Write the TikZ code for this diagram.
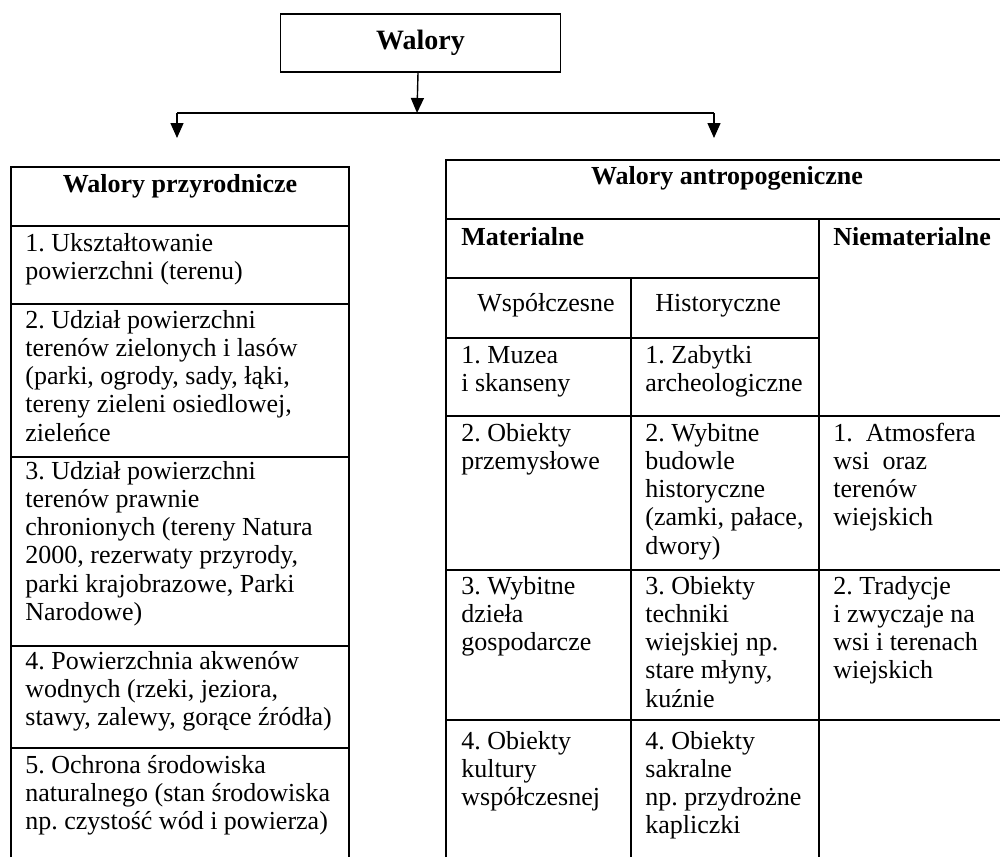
\documentclass[tikz,border=0pt]{standalone}
\usepackage{fontspec}
\setmainfont{Liberation Serif}
\frenchspacing
\usetikzlibrary{arrows.meta}
\newcommand{\celltext}[1]{\begin{tabular}[t]{@{}l@{}}#1\end{tabular}}
\begin{document}
\begin{tikzpicture}[x=0.5pt,y=-0.5pt,
  cell/.style={anchor=base west,inner sep=0pt,font=\fontsize{13pt}{14.15pt}\selectfont},
  head/.style={anchor=base,inner sep=0pt,font=\fontsize{13pt}{14.15pt}\selectfont\bfseries},
  bhead/.style={anchor=base west,inner sep=0pt,font=\fontsize{13pt}{14.15pt}\selectfont\bfseries},
  grid/.style={line width=1pt},
  conn/.style={line width=0.7pt},
  arr/.style={conn,-{Triangle[width=6.5pt,length=7.5pt]}}]
\useasboundingbox (0,0) rectangle (1000,857);
% top box
\node[draw,line width=0.8pt,minimum width=140pt,minimum height=29pt,inner sep=0pt,
  font=\fontsize{14pt}{16pt}\selectfont\bfseries] (top) at (420.5,43) {Walory};
\coordinate (hub) at (417,113);
\coordinate (hl) at (177,113);
\coordinate (hr) at (714,113);
\coordinate (tl) at (177,138);
\coordinate (tr) at (714,138);
\draw[arr] (top.south -| 418,0) -- (hub);
\draw[conn] (hl) -- (hr);
\draw[arr] (hl) -- (tl);
\draw[arr] (hr) -- (tr);
% left table grid
\draw[grid] (11,857) -- (11,167) -- (349,167) -- (349,857);
\foreach \y in {226,304,457,646,748} \draw[grid] (11,\y) -- (349,\y);
% right table grid
\draw[grid] (446,857) -- (446,160) -- (1000,160);
\draw[grid] (446,219) -- (1000,219);
\draw[grid] (446,278) -- (819,278);
\draw[grid] (446,338) -- (819,338);
\foreach \y in {416,570,720} \draw[grid] (446,\y) -- (1000,\y);
\draw[grid] (631,278) -- (631,857);
\draw[grid] (819,219) -- (819,857);
% left table texts
\node[head] (hdrL) at (180,192) {Walory przyrodnicze};
\node[cell] (L1) at (25,251) {\celltext{1. Ukształtowanie\\powierzchni (terenu)}};
\node[cell] (L2) at (25,328) {\celltext{2. Udział powierzchni\\terenów zielonych i lasów\\(parki, ogrody, sady, łąki,\\tereny zieleni osiedlowej,\\zieleńce}};
\node[cell] (L3) at (25,479) {\celltext{3. Udział powierzchni\\terenów prawnie\\chronionych (tereny Natura\\2000, rezerwaty przyrody,\\parki krajobrazowe, Parki\\Narodowe)}};
\node[cell] (L4) at (25,669) {\celltext{4. Powierzchnia akwenów\\wodnych (rzeki, jeziora,\\stawy, zalewy, gorące źródła)}};
\node[cell] (L5) at (25,773) {\celltext{5. Ochrona środowiska\\naturalnego (stan środowiska\\np. czystość wód i powierza)}};
% right table texts
\node[head] (hdrR) at (727,184) {Walory antropogeniczne};
\node[bhead] (mat) at (461,245) {Materialne};
\node[bhead] (niemat) at (833,245) {Niematerialne};
\node[cell] (wsp) at (477,311) {Współczesne};
\node[cell] (hist) at (655,311) {Historyczne};
\node[cell] (R1a) at (461,363) {\celltext{1. Muzea\\i skanseny}};
\node[cell] (R1b) at (645,363) {\celltext{1. Zabytki\\archeologiczne}};
\node[cell] (R2a) at (461,441) {\celltext{2. Obiekty\\przemysłowe}};
\node[cell] (R2b) at (645,441) {\celltext{2. Wybitne\\budowle\\historyczne\\(zamki, pałace,\\dwory)}};
\node[cell] (R2c) at (833,441) {\celltext{1.\ \ Atmosfera\\wsi\ \ oraz\\terenów\\wiejskich}};
\node[cell] (R3a) at (461,594) {\celltext{3. Wybitne\\dzieła\\gospodarcze}};
\node[cell] (R3b) at (645,594) {\celltext{3. Obiekty\\techniki\\wiejskiej np.\\stare młyny,\\kuźnie}};
\node[cell] (R3c) at (833,594) {\celltext{2. Tradycje\\i zwyczaje na\\wsi i terenach\\wiejskich}};
\node[cell] (R4a) at (461,749) {\celltext{4. Obiekty\\kultury\\współczesnej}};
\node[cell] (R4b) at (645,749) {\celltext{4. Obiekty\\sakralne\\np. przydrożne\\kapliczki}};
\end{tikzpicture}
\end{document}
